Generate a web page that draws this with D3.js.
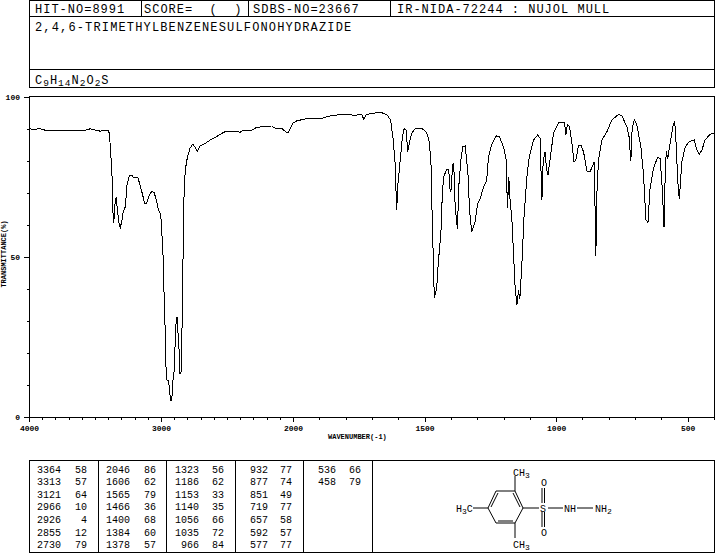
<!DOCTYPE html>
<html>
<head>
<meta charset="utf-8">
<script src="https://cdn.jsdelivr.net/npm/d3@7/dist/d3.min.js"></script>
<style>
  html, body { margin: 0; padding: 0; background: #fff; }
  svg { display: block; }
  text { font-family: "Liberation Mono", "DejaVu Sans Mono", monospace; fill: #000; }
  .axis path, .axis line, .box { shape-rendering: crispEdges; stroke: #000; }
  .axis text { font-size: 8px; font-weight: bold; }
</style>
</head>
<body>
<div id="chart-area"></div>
<script>
// DATA
// ****

const wavenumbers = [4000,3970,3917,3879,3765,3689,3576,3538,3462,3401,3392,3386,3373,3366,3365,3358,3348,3339,3331,3316,3308,3298,3286,3270,3258,3240,3220,3205,3176,3159,3139,3125,3108,3089,3068,3051,3033,3020,3002,2992,2983,2977,2970,2962,2955,2942,2934,2924,2917,2909,2899,2894,2884,2876,2871,2864,2856,2848,2841,2833,2829,2823,2816,2801,2780,2760,2742,2725,2704,2667,2629,2578,2540,2515,2414,2401,2376,2351,2313,2275,2161,2136,2086,2053,2035,2002,
  1986,1942,1891,1853,1790,1764,1752,1739,1731,1722,1669,1644,1629,1619,1612,1606,1601,1593,1584,1577,1570,1564,1558,1549,1536,1511,1492,1482,1475,1472,1468,1463,1454,1448,1438,1432,1426,1416,1408,1403,1400,1393,1389,1385,1380,1375,1370,1362,1355,1346,1340,1333,1330,1321,1308,1298,1289,1277,1264,1257,1245,1228,1216,1200,1190,1185,1180,1175,1168,1162,1156,1149,1143,1138,1130,1122,1111,1102,1086,1070,1061,1058,1054,1049,1042,1036,1031,1020,1010,991,968,963,957,949,940,932,925,915,905,896,883,871,856,853,849,845,839,826,807,788,763,750,731,723,716,711,703,693,678,668,659,651,643,630,615,605,597,590,585,581,576,567,554,549,544,538,532,522,509,493,475,465,456,446,434,415,400]

const transmittance = [90.0,89.7,90.0,89.5,89.4,89.5,89.4,89.9,89.2,89.4,88.6,85.5,77.1,70.8,64.6,60.5,66.8,68.5,64.6,59.9,59.2,60.9,64.1,65.6,72.4,75.2,75.4,74.6,74.8,72.4,69.3,66.7,66.7,69.3,70.4,70.0,67.2,64.6,63.3,56.3,49.0,38.7,29.3,15.6,11.5,11.2,7.5,5.0,6.2,11.5,14.7,21.8,31.2,31.2,26.2,21.8,13.6,14.0,27.1,49.9,64.6,71.8,77.1,80.8,83.9,85.1,84.3,82.9,84.6,85.3,86.4,87.5,88.5,89.0,89.0,88.8,89.5,89.5,89.5,90.4,90.8,90.1,90.1,88.9,88.9,91.6,
  92.4,93.2,93.2,94.1,94.5,94.0,94.4,94.4,92.9,94.4,95.1,94.4,92.7,86.4,79.2,64.6,72.9,79.7,87.5,90.1,89.5,82.8,85.4,88.5,89.9,90.1,88.8,85.9,78.1,65.6,53.1,37.0,40.2,48.0,57.3,70.8,75.2,77.3,77.1,70.8,70.3,78.6,79.2,67.7,62.5,58.6,71.9,80.2,84.3,84.6,80.2,73.9,65.6,57.6,60.9,66.7,68.0,71.4,73.9,81.2,84.9,87.7,87.5,84.3,80.2,65.1,75.0,67.7,61.5,51.1,40.7,34.9,39.6,36.7,48.0,62.5,75.0,81.2,86.4,88.0,87.0,78.1,67.7,80.2,82.6,77.1,75.5,82.3,88.5,91.8,91.9,88.0,91.3,90.6,85.4,79.5,80.2,84.6,84.6,82.8,76.8,76.5,79.5,69.9,50.2,69.8,80.2,86.4,89.0,92.7,94.4,93.9,90.6,87.5,79.9,90.1,92.7,91.1,84.3,76.0,61.5,60.7,71.4,77.6,80.9,80.7,71.9,59.4,77.1,83.1,80.4,85.4,91.6,92.1,85.4,73.9,67.9,79.7,84.3,86.0,86.4,83.3,82.0,83.3,86.4,88.2,88.5]

const xMajor = [4000, 3000, 2000, 1500, 1000, 500]
const xMinor = d3.range(4000, 399, -100).filter(d => !xMajor.includes(d))
const yMajor = [0, 50, 100]
const yMinor = [10, 20, 30, 40, 60, 70, 80, 90]

const peakWavenumbers = [
  [3364,3313,3121,2966,2926,2855,2730],
  [2046,1606,1565,1466,1400,1384,1378],
  [1323,1186,1153,1140,1056,1035,966],
  [932,877,851,719,657,592,577],
  [536,458]
]
const peakValues = [
  [58,57,64,10,4,12,79],
  [86,62,79,36,68,60,57],
  [56,62,33,35,66,72,84],
  [77,74,49,77,58,57,77],
  [66,79]
]

const headerCells = ["HIT-NO=8991", "SCORE=  (  )", "SDBS-NO=23667", "IR-NIDA-72244 : NUJOL MULL"]
const compoundName = "2,4,6-TRIMETHYLBENZENESULFONOHYDRAZIDE"

// CANVAS
// ******

const width = 715
const height = 553
const plotLeft = 29, plotRight = 714, plotTop = 96.5, plotBottom = 417

const svg = d3.select("#chart-area")
  .append("svg")
    .attr("width", width)
    .attr("height", height)

const x = d3.scaleLinear().domain([4000, 2000, 400]).range([plotLeft, 293, plotRight])
const y = d3.scaleLinear().domain([0, 100]).range([plotBottom, plotTop])

function box(x0, y0, x1, y1) {
  svg.append("rect")
    .attr("class", "box")
    .attr("x", x0 + 0.5).attr("y", y0 + 0.5)
    .attr("width", x1 - x0).attr("height", y1 - y0)
    .attr("fill", "none")
}

function vline(xp, y0, y1) {
  svg.append("line").attr("class", "box")
    .attr("x1", xp + 0.5).attr("x2", xp + 0.5)
    .attr("y1", y0).attr("y2", y1)
}

function label(str, xp, yp, size, spacing) {
  return svg.append("text")
    .attr("x", xp).attr("y", yp)
    .attr("font-size", size + "px")
    .attr("letter-spacing", spacing || 0)
    .style("white-space", "pre")
    .text(str)
}

// HEADER
// ******

box(29, 0, 714, 87)
svg.append("line").attr("class", "box").attr("x1", 29).attr("x2", 714).attr("y1", 16.5).attr("y2", 16.5)
svg.append("line").attr("class", "box").attr("x1", 29).attr("x2", 714).attr("y1", 69.5).attr("y2", 69.5)
const headerSep = [141, 248, 390]
headerSep.forEach(d => vline(d, 0, 17))

const headerX = [35, 144, 253, 397]
headerCells.forEach((d, i) => label(d, headerX[i], 13, 12, 1))
label(compoundName, 35, 31, 12, 1.15)

// formula with subscripts
const formula = svg.append("text").attr("x", 35).attr("y", 84).attr("letter-spacing", 1)
const formulaParts = [["C", 0], ["9", 2], ["H", 0], ["14", 2], ["N", 0], ["2", 2], ["O", 0], ["2", 2], ["S", 0]]
formulaParts.forEach((d, i) => {
  formula.append("tspan")
    .attr("font-size", d[1] ? "9.5px" : "12px")
    .attr("dy", d[1] ? 2 : (i ? -2 : 0))
    .text(d[0])
})

// PLOT
// ****

box(plotLeft, 96, plotRight, 417)

const xAxisMinor = d3.axisBottom(x).tickValues(xMinor).tickSize(3).tickFormat("")
svg.append("g").attr("class", "x axis minor")
  .attr("transform", "translate(0, 417)")
  .call(xAxisMinor)
  .select(".domain").remove()

const xAxisMajor = d3.axisBottom(x).tickValues(xMajor).tickSize(5).tickPadding(3).tickFormat(d3.format("d"))
svg.append("g").attr("class", "x axis major")
  .attr("transform", "translate(0, 417)")
  .call(xAxisMajor)
  .select(".domain").remove()

const yAxisMinor = d3.axisLeft(y).tickValues(yMinor).tickSize(2).tickFormat("")
svg.append("g").attr("class", "y axis minor")
  .attr("transform", "translate(" + plotLeft + ", 0)")
  .call(yAxisMinor)
  .select(".domain").remove()

const yAxisMajor = d3.axisLeft(y).tickValues(yMajor).tickSize(5).tickPadding(4).tickFormat(d3.format("d"))
svg.append("g").attr("class", "y axis major")
  .attr("transform", "translate(" + plotLeft + ", 0)")
  .call(yAxisMajor)
  .select(".domain").remove()

svg.append("text")
  .attr("transform", "translate(6, 254) rotate(-90)")
  .attr("text-anchor", "middle")
  .attr("font-size", "7px")
  .attr("font-weight", "bold")
  .text("TRANSMITTANCE(%)")

svg.append("text")
  .attr("x", 328).attr("y", 439)
  .attr("font-size", "7px")
  .attr("font-weight", "bold")
  .text("WAVENUMBER(-1)")

const line = d3.line()
  .x((d, i) => x(d))
  .y((d, i) => y(transmittance[i]))

svg.append("path")
  .attr("d", line(wavenumbers))
  .attr("fill", "none")
  .attr("stroke", "#000")
  .attr("stroke-width", 1)
  .attr("shape-rendering", "crispEdges")

// PEAK TABLE
// **********

box(29, 460, 714, 552)
const tableSep = [98, 166, 235, 303, 372]
tableSep.forEach(d => vline(d, 460, 553))

const tableWave = [61, 130, 199, 268, 336]
const tableVal = [87, 156, 224, 292, 361]
peakWavenumbers.forEach((col, c) => {
  col.forEach((d, r) => {
    label(d, tableWave[c], 472.5 + r * 12.6, 10).attr("text-anchor", "end")
    label(peakValues[c][r], tableVal[c], 472.5 + r * 12.6, 10).attr("text-anchor", "end")
  })
})

// STRUCTURE
// *********

const bonds = [
  [496, 491, 515, 491], [515, 491, 523, 508], [523, 508, 515, 523], [515, 523, 496, 523], [496, 523, 488, 508], [488, 508, 496, 491],
  [498, 493, 491, 507], [513, 493, 520, 507], [498, 521, 513, 521],
  [515, 491, 515, 476], [515, 523, 515, 538], [473, 508, 488, 508], [523, 508, 539, 508],
  [548, 508, 563, 508], [577, 508, 593, 508],
  [542, 488, 542, 503], [544.5, 488, 544.5, 503], [542, 512, 542, 527], [544.5, 512, 544.5, 527]
]
svg.append("g").selectAll("line").data(bonds).enter()
  .append("line")
    .attr("x1", d => d[0]).attr("y1", d => d[1])
    .attr("x2", d => d[2]).attr("y2", d => d[3])
    .attr("stroke", "#000")

function group(parts, xp, yp) {
  const t = svg.append("text").attr("x", xp).attr("y", yp).attr("font-size", "10px")
  let shifted = false
  parts.forEach(d => {
    const sub = /\d/.test(d)
    t.append("tspan")
      .attr("font-size", sub ? "8px" : "10px")
      .attr("dy", sub ? 2 : (shifted ? -2 : 0))
      .text(d)
    shifted = sub
  })
}
group(["CH", "3"], 513, 476)
group(["CH", "3"], 513, 548)
group(["H", "3", "C"], 456, 512)
group(["S"], 540, 512)
group(["O"], 541, 486)
group(["O"], 541, 536)
group(["NH"], 564, 512)
group(["NH", "2"], 595, 512)
</script>
</body>
</html>
